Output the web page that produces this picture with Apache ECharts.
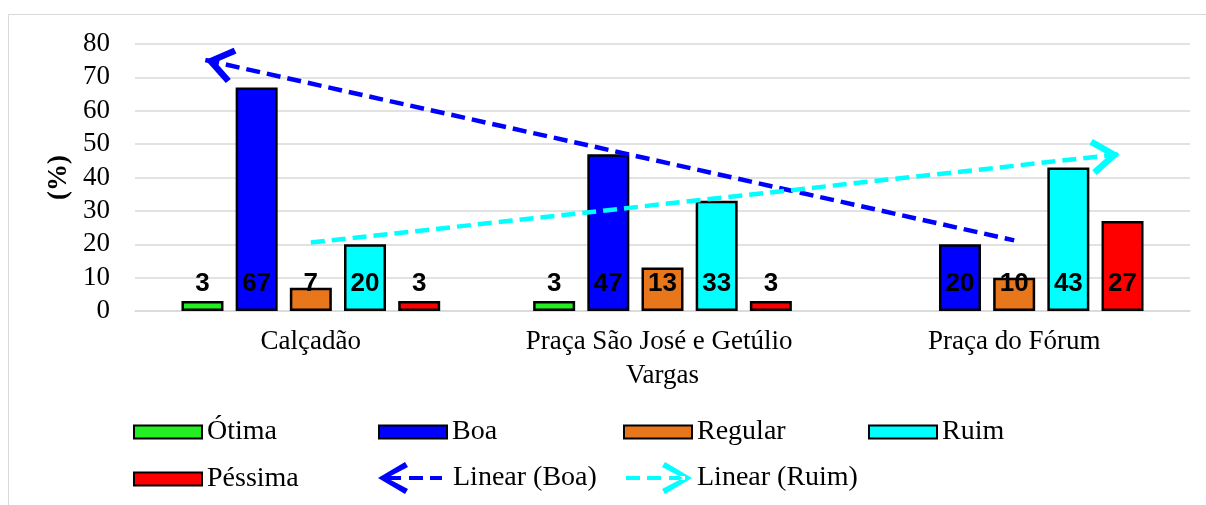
<!DOCTYPE html>
<html>
<head>
<meta charset="utf-8">
<style>
  html, body { margin: 0; padding: 0; background: #ffffff; }
  #chart { width: 1206px; height: 505px; }
</style>
<script src="https://cdn.jsdelivr.net/npm/echarts@6/dist/echarts.min.js"></script>
</head>
<body>
<div id="chart"></div>
<script>
// ---- data ----
const categories = ['Calçadão', 'Praça São José e Getúlio Vargas', 'Praça do Fórum'];
const otima    = [3, 3, null];
const boa      = [67, 47, 20];
const regular  = [7, 13, 10];
const ruim     = [20, 33, 43];
const pessima  = [3, 3, 27];
const yTicks   = [0, 10, 20, 30, 40, 50, 60, 70, 80];
const trendBackward = 0.3;   // Excel trendline forecast (periods)
const trendForward  = 0.3;

// least-squares linear trend over category index 1..n
function linearTrend(values) {
  const n = values.length;
  let sx = 0, sy = 0, sxx = 0, sxy = 0;
  values.forEach((v, i) => { const x = i + 1; sx += x; sy += v; sxx += x * x; sxy += x * v; });
  const b = (n * sxy - sx * sy) / (n * sxx - sx * sx);
  const a = (sy - b * sx) / n;
  return x => a + b * x;
}

const serif = '"Liberation Serif", "Times New Roman", serif';
const sans = '"Liberation Sans", Arial, sans-serif';

// open chevron pointing up, tip at the centre of the bounding box
const chevron = 'path://M18,-29 M18,0 L36,25 L31,29 L18,11 L5,29 L0,25 Z';
const iconBoaTrend = 'path://M0,0 M70,32 M0,16 L27,0 L30,5 L9,16 L30,27 L27,32 Z M7,14 L23,14 L23,18 L7,18 Z M31,14 L45,14 L45,18 L31,18 Z M52,14 L64,14 L64,18 L52,18 Z';
const iconRuimTrend = 'path://M0,0 M70,32 M70,16 L43,0 L40,5 L61,16 L40,27 L43,32 Z M47,14 L63,14 L63,18 L47,18 Z M25,14 L39,14 L39,18 L25,18 Z M4,14 L18,14 L18,18 L4,18 Z';

const colors = {
  otima: '#22EE22', boa: '#0000FF', regular: '#E8771C', ruim: '#00FFFF', pessima: '#FF0000'
};

function barSeries(name, data, color) {
  return {
    name, type: 'bar', data,
    barWidth: 42, barGap: '29%',
    itemStyle: { color, borderColor: '#000000', borderWidth: 2.5 },
    label: {
      show: true, position: 'insideBottom', distance: 14,
      color: '#000000', fontFamily: sans, fontWeight: 'bold', fontSize: 26,
      formatter: p => (p.value == null ? '' : p.value)
    },
    emphasis: { disabled: true },
    animation: false
  };
}

function trendSeries(name, values, color, arrowAtStart) {
  const f = linearTrend(values);
  const x0 = 1 - trendBackward, x1 = values.length + trendForward;
  const xs = arrowAtStart ? [x0, values.length] : [1, x1];
  return {
    name, type: 'line', xAxisIndex: 1, yAxisIndex: 0, data: [],
    itemStyle: { color },
    lineStyle: { color },
    markLine: {
      silent: true, animation: false,
      symbol: arrowAtStart ? [chevron, 'none'] : ['none', chevron],
      symbolSize: [36, 58],
      label: { show: false },
      emphasis: { disabled: true },
      lineStyle: { color, width: 4.5, type: [14, 7], opacity: 1 },
      data: [[{ coord: [xs[0], f(xs[0])] }, { coord: [xs[1], f(xs[1])] }]]
    },
    animation: false
  };
}

function legendItem(left, top, item, iw, ih) {
  return {
    left, top, padding: 0, itemWidth: iw, itemHeight: ih,
    selectedMode: false,
    textStyle: { color: '#000000', fontFamily: serif, fontSize: 28 },
    data: [item]
  };
}

const chart = echarts.init(document.getElementById('chart'), null, { renderer: 'canvas' });
chart.setOption({
  backgroundColor: '#ffffff',
  animation: false,
  graphic: [{
    type: 'rect', silent: true,
    shape: { x: 8.5, y: 14.5, width: 1210, height: 520 },
    style: { fill: 'none', stroke: '#D9D9D9', lineWidth: 1 }
  }],
  grid: { left: 135, right: 16, top: 44, bottom: 194 },
  xAxis: [{
    type: 'category', data: categories,
    axisLine: { show: true, lineStyle: { color: '#D9D9D9', width: 1.5 } },
    axisTick: { show: false },
    axisLabel: {
      color: '#000000', fontFamily: serif, fontSize: 27, margin: 14,
      width: 345, overflow: 'break', lineHeight: 34, interval: 0
    }
  }, {
    type: 'value', min: 0.5, max: 3.5, show: false
  }],
  yAxis: {
    type: 'value', min: yTicks[0], max: yTicks[yTicks.length - 1], interval: 10,
    name: '(%)', nameLocation: 'middle', nameGap: 62,
    nameTextStyle: { color: '#000000', fontFamily: serif, fontSize: 27, fontWeight: 'bold' },
    axisLine: { show: false }, axisTick: { show: false },
    axisLabel: { color: '#000000', fontFamily: serif, fontSize: 27, margin: 25 },
    splitLine: { lineStyle: { color: '#D9D9D9', width: 1.5 } }
  },
  legend: [
    legendItem(133, 418, { name: 'Ótima', icon: 'rect' }, 68, 13),
    legendItem(378, 418, { name: 'Boa', icon: 'rect' }, 68, 13),
    legendItem(623, 418, { name: 'Regular', icon: 'rect' }, 68, 13),
    legendItem(868, 418, { name: 'Ruim', icon: 'rect' }, 68, 13),
    legendItem(133, 465, { name: 'Péssima', icon: 'rect' }, 68, 13),
    legendItem(378, 462, { name: 'Linear (Boa)', icon: iconBoaTrend, itemStyle: { color: colors.boa, borderWidth: 0 } }, 70, 32),
    legendItem(622, 462, { name: 'Linear (Ruim)', icon: iconRuimTrend, itemStyle: { color: colors.ruim, borderWidth: 0 } }, 70, 32)
  ],
  series: [
    barSeries('Ótima', otima, colors.otima),
    barSeries('Boa', boa, colors.boa),
    barSeries('Regular', regular, colors.regular),
    barSeries('Ruim', ruim, colors.ruim),
    barSeries('Péssima', pessima, colors.pessima),
    trendSeries('Linear (Boa)', boa, colors.boa, true),
    trendSeries('Linear (Ruim)', ruim, colors.ruim, false)
  ]
});
</script>
</body>
</html>
